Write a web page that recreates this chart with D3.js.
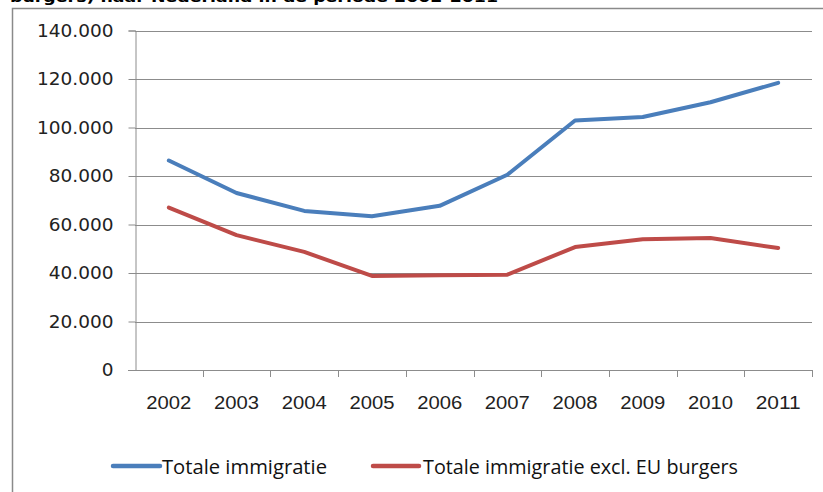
<!DOCTYPE html>
<html>
<head>
<meta charset="utf-8">
<script src="https://cdn.jsdelivr.net/npm/d3@7"></script>
<style>
  html, body { margin: 0; padding: 0; background: #fff; }
  svg { display: block; }
</style>
</head>
<body>
<svg id="chart" width="823" height="492"></svg>
<script>
const years = ["2002","2003","2004","2005","2006","2007","2008","2009","2010","2011"];
const totaal = [86400, 73000, 65600, 63400, 67700, 80500, 102900, 104300, 110400, 118400];
const exclEU = [67000, 55600, 48700, 38800, 39100, 39300, 50700, 53900, 54400, 50300];
const yTicks = [0, 20000, 40000, 60000, 80000, 100000, 120000, 140000];
const seriesNames = ["Totale immigratie", "Totale immigratie excl. EU burgers"];
const seriesColors = ["#4a7ebb", "#be4b48"];
const titleText = "burgers) naar Nederland in de periode 2002-2011";

const svg = d3.select("#chart");
const plotLeft = 135, plotRight = 812, plotTop = 30.5, plotBottom = 370;

const x = d3.scaleBand().domain(years).range([plotLeft, plotRight]).padding(0);
const y = d3.scaleLinear().domain([0, 140000]).range([plotBottom, plotTop]);
const nl = d3.formatLocale({decimal: ",", thousands: ".", grouping: [3], currency: ["€", ""]});
const fmt = nl.format(",d");

// cut-off title at top
svg.append("text")
  .attr("x", 10).attr("y", 2)
  .attr("font-family", "DejaVu Sans").attr("font-weight", "bold")
  .attr("font-size", 14).attr("fill", "#000")
  .attr("textLength", 488).attr("lengthAdjust", "spacingAndGlyphs")
  .text(titleText);

// chart frame
svg.append("path")
  .attr("d", "M12.5,492 L12.5,8.5 L823,8.5")
  .attr("fill", "none").attr("stroke", "#8a8a8a").attr("stroke-width", 1.5);

// gridlines
svg.append("g").selectAll("line").data(yTicks.filter(d => d > 0)).join("line")
  .attr("x1", plotLeft).attr("x2", plotRight)
  .attr("y1", d => Math.round(y(d)) + 0.5).attr("y2", d => Math.round(y(d)) + 0.5)
  .attr("stroke", "#8c8c8c").attr("stroke-width", 1);

// y axis
const yAxis = svg.append("g").attr("transform", `translate(${plotLeft + 0.5},0)`)
  .call(d3.axisLeft(y).tickValues(yTicks).tickFormat(d => d === 0 ? "0" : fmt(d)).tickSize(7).tickPadding(15));
yAxis.select(".domain").attr("stroke", "#8c8c8c");
yAxis.selectAll(".tick line").attr("stroke", "#8c8c8c");
yAxis.selectAll("text").attr("font-family", "DejaVu Sans").attr("font-size", 18.5).attr("fill", "#222");

// x axis line
const xAxis = svg.append("g").attr("transform", `translate(0,${Math.round(plotBottom) + 0.5})`)
  .call(d3.axisBottom(x).tickSize(0).tickPadding(26));
xAxis.select(".domain").attr("stroke", "#8c8c8c").attr("d", `M${plotLeft - 7},0H${plotRight}`);
xAxis.selectAll("text").attr("font-family", "Liberation Sans").attr("font-size", 18).attr("fill", "#222")
  .attr("textLength", 45).attr("lengthAdjust", "spacingAndGlyphs");
// tick marks at category boundaries
svg.append("g").selectAll("line").data(years.slice(1).concat(["end"])).join("line")
  .attr("x1", d => Math.round(d === "end" ? plotRight : x(d)) + 0.5)
  .attr("x2", d => Math.round(d === "end" ? plotRight : x(d)) + 0.5)
  .attr("y1", plotBottom).attr("y2", plotBottom + 7)
  .attr("stroke", "#8c8c8c");

// lines
const line = d3.line().x((d, i) => x(years[i]) + x.bandwidth() / 2).y(d => y(d));
[totaal, exclEU].forEach((s, i) => {
  svg.append("path").datum(s).attr("d", line)
    .attr("fill", "none").attr("stroke", seriesColors[i]).attr("stroke-width", 4)
    .attr("stroke-linejoin", "round").attr("stroke-linecap", "round");
});

// legend
const legendItems = [
  {x1: 113, x2: 160, tx: 162, tl: 165},
  {x1: 373, x2: 419, tx: 423, tl: 315}
];
legendItems.forEach((l, i) => {
  svg.append("line").attr("x1", l.x1).attr("x2", l.x2).attr("y1", 466).attr("y2", 466)
    .attr("stroke", seriesColors[i]).attr("stroke-width", 4.5).attr("stroke-linecap", "round");
  svg.append("text").attr("x", l.tx).attr("y", 474)
    .attr("font-family", "Open Sans").attr("font-size", 20).attr("fill", "#111")
    .attr("textLength", l.tl).attr("lengthAdjust", "spacingAndGlyphs")
    .text(seriesNames[i]);
});
</script>
</body>
</html>
